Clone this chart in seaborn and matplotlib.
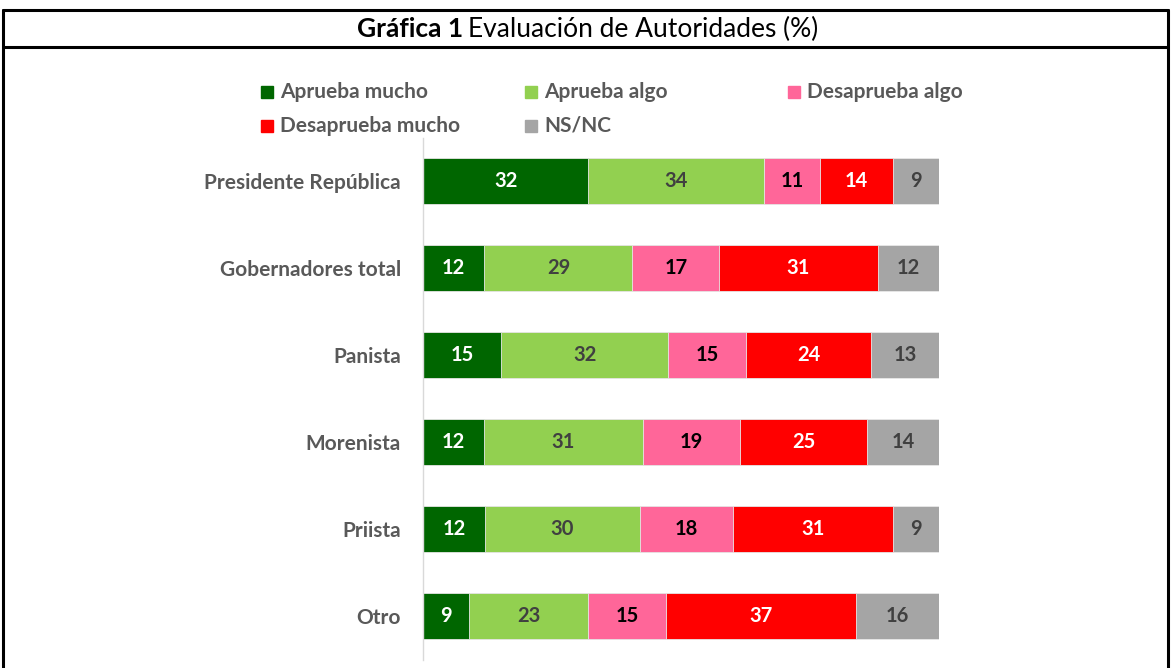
import matplotlib
matplotlib.use("Agg")
import matplotlib.pyplot as plt
import seaborn as sns
import pandas as pd
import numpy as np
from matplotlib.patches import Rectangle
from matplotlib.lines import Line2D

categories = ["Presidente República", "Gobernadores total", "Panista", "Morenista", "Priista", "Otro"]
series_names = ["Aprueba mucho", "Aprueba algo", "Desaprueba algo", "Desaprueba mucho", "NS/NC"]
aprueba_mucho = [32, 12, 15, 12, 12, 9]
aprueba_algo = [34, 29, 32, 31, 30, 23]
desaprueba_algo = [11, 17, 15, 19, 18, 15]
desaprueba_mucho = [14, 31, 24, 25, 31, 37]
ns_nc = [9, 12, 13, 14, 9, 16]

colors = ["#006600", "#92D050", "#FF6699", "#FF0000", "#A5A5A5"]
label_colors = ["white", "#404040", "black", "white", "#404040"]

sns.set_theme(style="white")
plt.rcParams["font.family"] = ["Lato", "DejaVu Sans"]

values = [aprueba_mucho, aprueba_algo, desaprueba_algo, desaprueba_mucho, ns_nc]
df = pd.DataFrame({name: v for name, v in zip(series_names, values)}, index=categories)
# 100% stacked: normalise each row to its total
pct = df.div(df.sum(axis=1), axis=0) * 100
cum = pct.cumsum(axis=1)

W, H = 1171, 668
fig = plt.figure(figsize=(W / 100, H / 100), dpi=100)
ax = fig.add_axes([423 / W, 1 - 659.5 / H, (939 - 423) / W, 522 / H])

# draw cumulative bars from the largest to the smallest so they stack
for i in range(len(series_names) - 1, -1, -1):
    col = series_names[i]
    plot_df = pd.DataFrame({"cat": categories, "val": cum[col].values})
    sns.barplot(data=plot_df, x="val", y="cat", orient="h", color=colors[i],
                saturation=1, width=0.52, ax=ax, edgecolor="#E8E8E8", linewidth=0.6)

# segment labels
for i, col in enumerate(series_names):
    starts = cum[col].values - pct[col].values
    for j, v in enumerate(df[col].values):
        ax.text(starts[j] + pct[col].values[j] / 2, j, f"{v}", ha="center", va="center",
                fontsize=14.5, fontweight="bold", color=label_colors[i])

ax.set_xlim(0, 100)
ax.set_ylim(len(categories) - 0.5, -0.5)
ax.set_xlabel("")
ax.set_ylabel("")
ax.set_xticks([])
ax.tick_params(axis="y", length=0, pad=16)
for lbl in ax.get_yticklabels():
    lbl.set_fontsize(15)
    lbl.set_fontweight("bold")
    lbl.set_color("#595959")
for s in ["top", "right", "bottom"]:
    ax.spines[s].set_visible(False)
ax.spines["left"].set_color("#D9D9D9")
ax.spines["left"].set_linewidth(1)

# frame / title box
lw = 2.2
fig.add_artist(Line2D([3 / W, 1168 / W], [1 - 10 / H, 1 - 10 / H], color="black", lw=lw, transform=fig.transFigure))
fig.add_artist(Line2D([3 / W, 1168 / W], [1 - 47 / H, 1 - 47 / H], color="black", lw=lw, transform=fig.transFigure))
fig.add_artist(Line2D([3 / W, 3 / W], [1 - 10 / H, 0], color="black", lw=lw, transform=fig.transFigure))
fig.add_artist(Line2D([1168 / W, 1168 / W], [1 - 10 / H, 0], color="black", lw=lw, transform=fig.transFigure))

t1 = fig.text(357 / W, 1 - 29 / H, "Gráfica 1", fontsize=19, fontweight="bold", color="black",
              ha="left", va="center")
fig.canvas.draw()
bb = t1.get_window_extent()
fig.text((bb.x1 + 5) / W, 1 - 29 / H, "Evaluación de Autoridades (%)", fontsize=19,
         color="black", ha="left", va="center")

# legend
legend_pos = [(261, 92), (525, 92), (788, 92), (261, 126), (525, 126)]
for (x, y), name, c in zip(legend_pos, series_names, colors):
    fig.add_artist(Rectangle((x / W, 1 - (y + 6) / H), 12 / W, 12 / H, color=c,
                             transform=fig.transFigure))
    fig.text((x + 19) / W, 1 - y / H, name, fontsize=15, fontweight="bold", color="#595959",
             ha="left", va="center")

fig.savefig("out.png", dpi=100)
